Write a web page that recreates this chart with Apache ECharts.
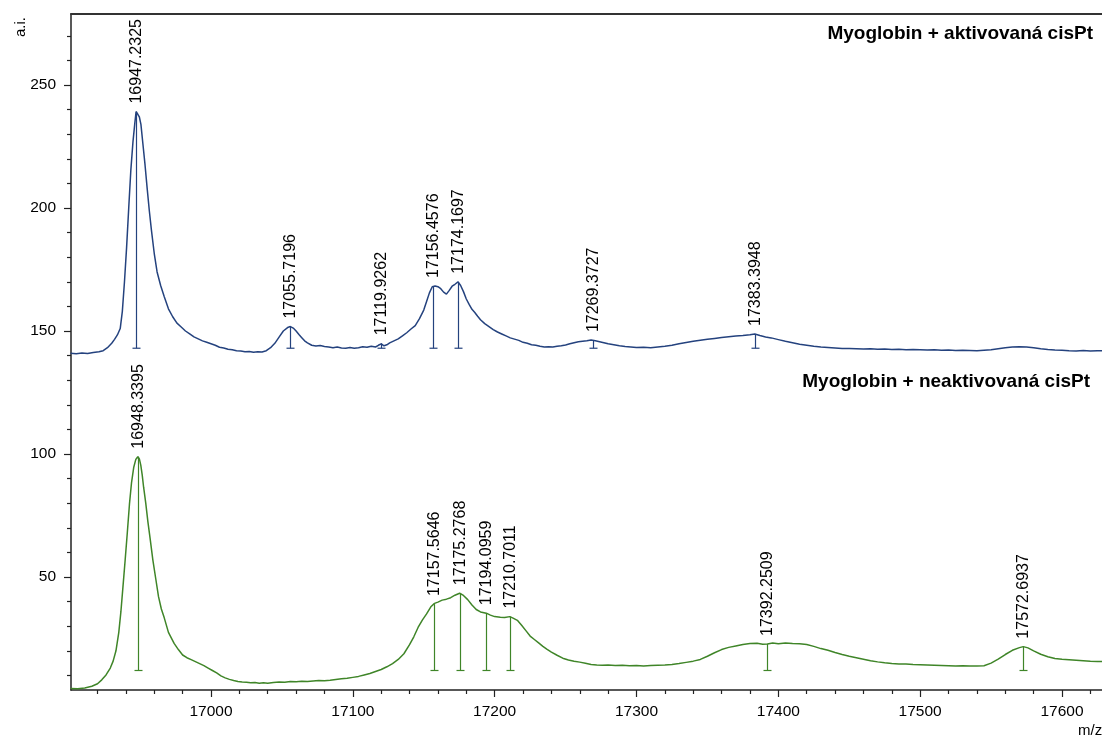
<!DOCTYPE html>
<html>
<head>
<meta charset="utf-8">
<script src="https://cdn.jsdelivr.net/npm/echarts@6/dist/echarts.min.js"></script>
<style>
html,body{margin:0;padding:0;background:#fff;}
#chart{width:1102px;height:737px;}
</style>
</head>
<body>
<div id="chart"></div>
<script>
// ---- DATA ----
const activatedTitle = 'Myoglobin + aktivovaná cisPt';
const nonActivatedTitle = 'Myoglobin + neaktivovaná cisPt';
const yAxisName = 'a.i.';
const xAxisName = 'm/z';

const xTicks = [17000, 17100, 17200, 17300, 17400, 17500, 17600];
const xMinorTicks = [16920, 16940, 16960, 16980, 17020, 17040, 17060, 17080, 17120, 17140, 17160, 17180,
  17220, 17240, 17260, 17280, 17320, 17340, 17360, 17380, 17420, 17440, 17460, 17480,
  17520, 17540, 17560, 17580, 17620];
const yTicks = [50, 100, 150, 200, 250];
const yMinorTicks = [10, 20, 30, 40, 60, 70, 80, 90, 110, 120, 130, 140, 160, 170, 180, 190,
  210, 220, 230, 240, 260, 270];

const activatedSpectrum = [
  [16901, 141.0], [16905, 140.8], [16909, 141.1], [16913, 140.9], [16917, 141.3], [16921, 141.6],
  [16924, 142.0], [16927, 143.2], [16930, 145.0], [16932, 146.6], [16934, 148.4], [16936, 151.0],
  [16937.5, 158.0], [16939, 170.0], [16940.5, 184.0], [16942, 200.0], [16943.5, 215.5], [16945, 227.0],
  [16946.3, 234.5], [16947.2, 239.2], [16948.5, 238.0], [16949.5, 237.0], [16950.6, 234.0], [16952, 226.0],
  [16953.5, 217.5], [16955, 208.0], [16956.5, 199.0], [16958, 191.0], [16960, 181.5], [16962, 174.0],
  [16964.5, 168.5], [16967, 164.0], [16970, 159.0], [16973, 155.8], [16976, 153.2], [16979, 151.6],
  [16982, 150.0], [16985, 148.8], [16988, 147.6], [16991, 146.8], [16994, 146.0], [16997, 145.4],
  [17000, 144.8], [17003, 144.2], [17006, 143.4], [17009, 143.1], [17012, 142.6], [17015, 142.4],
  [17018, 142.0], [17021, 141.9], [17024, 141.6], [17027, 141.7], [17030, 141.4], [17033, 141.6],
  [17036, 141.5], [17039, 142.0], [17042, 143.2], [17045, 145.0], [17048, 147.5], [17051, 150.0],
  [17054, 151.4], [17056, 151.8], [17058, 151.2], [17060, 150.0], [17062, 148.6], [17064, 147.3],
  [17066, 146.0], [17068, 145.2], [17071, 144.2], [17074, 143.9], [17077, 144.1], [17080, 143.7],
  [17083, 143.5], [17086, 143.2], [17089, 143.5], [17092, 143.1], [17095, 143.0], [17098, 143.3],
  [17101, 143.0], [17104, 143.2], [17107, 143.6], [17110, 143.4], [17113, 143.8], [17116, 143.5],
  [17118, 144.2], [17120, 144.8], [17122, 144.0], [17124, 144.4], [17126, 145.2], [17129, 146.0],
  [17132, 146.8], [17135, 148.0], [17138, 149.3], [17141, 150.8], [17144, 152.2], [17147, 155.0],
  [17150, 158.5], [17152, 162.0], [17154, 165.5], [17156, 168.0], [17158, 168.3], [17160, 168.0],
  [17162, 167.2], [17164, 165.8], [17166, 165.0], [17168, 166.5], [17170, 168.2], [17172, 169.0],
  [17174.2, 170.0], [17176, 168.5], [17178, 166.0], [17180, 163.0], [17182, 160.8], [17184, 158.8],
  [17186, 157.5], [17188, 156.0], [17190, 154.6], [17193, 153.0], [17196, 151.8], [17199, 150.6],
  [17202, 149.6], [17205, 148.8], [17208, 148.0], [17211, 147.2], [17214, 146.7], [17217, 146.2],
  [17220, 145.4], [17223, 145.0], [17226, 144.4], [17229, 144.2], [17232, 143.8], [17235, 143.5],
  [17238, 143.6], [17241, 143.5], [17244, 143.8], [17247, 144.0], [17250, 144.3], [17253, 144.8],
  [17256, 145.2], [17259, 145.6], [17262, 145.8], [17265, 146.0], [17268, 146.3], [17271, 146.0],
  [17274, 145.6], [17277, 145.2], [17280, 144.8], [17284, 144.4], [17288, 144.0], [17292, 143.7],
  [17296, 143.5], [17300, 143.3], [17305, 143.4], [17310, 143.2], [17315, 143.5], [17320, 143.8],
  [17325, 144.2], [17330, 144.8], [17335, 145.3], [17340, 145.8], [17345, 146.2], [17350, 146.6],
  [17355, 147.0], [17360, 147.4], [17365, 147.7], [17370, 148.0], [17375, 148.2], [17380, 148.5],
  [17383.4, 148.8], [17387, 148.2], [17391, 147.6], [17395, 147.2], [17400, 146.5], [17405, 145.8],
  [17410, 145.2], [17415, 144.6], [17420, 144.2], [17425, 143.8], [17430, 143.5], [17435, 143.3],
  [17440, 143.1], [17445, 142.9], [17450, 142.9], [17455, 142.8], [17460, 142.7], [17465, 142.8],
  [17470, 142.6], [17475, 142.7], [17480, 142.5], [17485, 142.6], [17490, 142.4], [17495, 142.5],
  [17500, 142.4], [17505, 142.3], [17510, 142.4], [17515, 142.2], [17520, 142.3], [17525, 142.1],
  [17530, 142.2], [17535, 142.1], [17540, 142.0], [17545, 142.2], [17550, 142.4], [17555, 142.8],
  [17560, 143.2], [17565, 143.5], [17570, 143.6], [17575, 143.5], [17580, 143.2], [17585, 142.8],
  [17590, 142.5], [17595, 142.3], [17600, 142.2], [17605, 142.0], [17610, 141.9], [17615, 142.1],
  [17620, 141.9], [17625, 142.0], [17629, 142.0]
];

const nonActivatedSpectrum = [
  [16901, 4.7], [16906, 4.6], [16911, 4.9], [16916, 5.6], [16920, 6.6], [16923, 8.2],
  [16926, 10.2], [16929, 13.0], [16931, 15.8], [16933, 20.0], [16935, 27.5], [16936.5, 36.0],
  [16938, 46.5], [16939.5, 57.0], [16941, 68.0], [16942.5, 79.5], [16944, 88.5], [16945.5, 94.5],
  [16947, 97.8], [16948.4, 98.9], [16949.5, 98.0], [16950.5, 95.5], [16951.5, 91.5], [16952.5, 86.5],
  [16954, 80.0], [16955.5, 72.5], [16957, 66.0], [16959, 57.0], [16961, 49.5], [16963, 42.0],
  [16965, 37.0], [16967, 33.5], [16970, 27.5], [16974, 23.0], [16977, 20.5], [16980, 18.3],
  [16983, 17.2], [16986, 16.4], [16989, 15.6], [16992, 14.8], [16995, 14.0], [16998, 13.0],
  [17001, 12.0], [17004, 11.0], [17007, 9.8], [17010, 9.0], [17013, 8.4], [17016, 7.9],
  [17019, 7.5], [17022, 7.3], [17025, 7.2], [17028, 7.0], [17031, 7.1], [17034, 6.8],
  [17037, 7.0], [17040, 6.8], [17044, 7.1], [17048, 7.3], [17052, 7.2], [17056, 7.5],
  [17060, 7.4], [17064, 7.6], [17068, 7.5], [17072, 7.7], [17076, 7.9], [17080, 7.8],
  [17084, 8.0], [17088, 8.3], [17092, 8.6], [17096, 8.8], [17100, 9.2], [17104, 9.6],
  [17108, 10.2], [17112, 10.8], [17116, 11.6], [17120, 12.4], [17124, 13.5], [17128, 14.8],
  [17132, 16.5], [17136, 18.8], [17140, 22.5], [17143, 25.7], [17146, 29.5], [17149, 32.5],
  [17152, 35.0], [17155, 37.9], [17157.6, 39.3], [17160, 39.8], [17163, 40.6], [17166, 41.0],
  [17169, 41.6], [17172, 42.6], [17175.3, 43.4], [17178, 42.5], [17181, 40.8], [17184, 38.6],
  [17187, 36.8], [17190, 35.8], [17194.1, 35.3], [17197, 34.5], [17200, 33.9], [17204, 33.6],
  [17207, 33.5], [17210.7, 33.9], [17213, 33.3], [17216, 32.4], [17219, 30.4], [17222, 28.2],
  [17225, 26.0], [17228, 24.6], [17231, 23.2], [17234, 21.8], [17237, 20.6], [17240, 19.5],
  [17244, 18.2], [17248, 17.0], [17252, 16.3], [17256, 15.8], [17260, 15.4], [17264, 14.9],
  [17268, 14.4], [17272, 14.2], [17276, 14.1], [17280, 14.2], [17285, 14.0], [17290, 14.1],
  [17295, 13.9], [17300, 14.0], [17305, 13.8], [17310, 14.0], [17315, 14.1], [17320, 14.2],
  [17325, 14.4], [17330, 14.8], [17335, 15.3], [17340, 15.8], [17345, 16.5], [17350, 17.8],
  [17355, 19.2], [17360, 20.5], [17365, 21.4], [17370, 22.0], [17375, 22.6], [17380, 23.0],
  [17385, 23.1], [17389, 22.7], [17392.3, 22.8], [17396, 23.2], [17400, 22.9], [17405, 23.2],
  [17410, 23.0], [17415, 22.9], [17420, 22.6], [17425, 21.8], [17430, 20.9], [17435, 20.2],
  [17440, 19.3], [17445, 18.5], [17450, 17.8], [17455, 17.2], [17460, 16.6], [17465, 16.0],
  [17470, 15.5], [17475, 15.1], [17480, 14.8], [17485, 14.6], [17490, 14.6], [17495, 14.4],
  [17500, 14.3], [17505, 14.2], [17510, 14.1], [17515, 14.0], [17520, 13.9], [17525, 13.8],
  [17530, 13.9], [17535, 13.8], [17540, 13.8], [17545, 13.9], [17550, 15.0], [17555, 16.6],
  [17560, 18.5], [17565, 20.2], [17570, 21.3], [17572.7, 21.7], [17576, 21.2], [17580, 20.0],
  [17585, 18.6], [17590, 17.6], [17595, 16.9], [17600, 16.6], [17605, 16.4], [17610, 16.2],
  [17615, 16.0], [17620, 15.8], [17625, 15.7], [17629, 15.6]
];

const activatedPeakMz = [16947.2325, 17055.7196, 17119.9262, 17156.4576, 17174.1697, 17269.3727, 17383.3948];
const activatedPeakHeight = [239.2, 151.8, 145.0, 168.3, 170.0, 146.3, 148.8];
const activatedPeakBase = 143;

const nonActivatedPeakMz = [16948.3395, 17157.5646, 17175.2768, 17194.0959, 17210.7011, 17392.2509, 17572.6937];
const nonActivatedPeakHeight = [98.9, 39.0, 43.4, 35.3, 33.9, 22.8, 21.7];
const nonActivatedPeakBase = 12;

// ---- STYLE ----
const FONT = "'Liberation Sans', Arial, sans-serif";
const BLUE = '#24427e';
const GREEN = '#3f8528';
const AXIS = '#222';
const X_MIN = 16901.3, X_MAX = 17628.2;
const Y_MIN = 4.07, Y_MAX = 278.86;

function peakRenderer(base, color) {
  return function (params, api) {
    const mz = api.value(0);
    const top = api.value(1);
    const pTop = api.coord([mz, top]);
    const pBot = api.coord([mz, base]);
    const x = Math.round(pTop[0]) + 0.5;
    return {
      type: 'group',
      children: [
        { type: 'line', shape: { x1: x, y1: pTop[1], x2: x, y2: pBot[1] },
          style: { stroke: color, lineWidth: 1.2 } },
        { type: 'line', shape: { x1: x - 4, y1: pBot[1], x2: x + 4, y2: pBot[1] },
          style: { stroke: color, lineWidth: 1.2 } },
        { type: 'text', x: x, y: pTop[1] - 8, rotation: Math.PI / 2,
          style: { text: mz.toFixed(4), align: 'left', verticalAlign: 'middle',
                   fontSize: 16, fill: '#000', fontFamily: FONT } }
      ]
    };
  };
}

const gridBox = { left: 71, right: 0, top: 14, bottom: 47 };
const plainNumber = v => String(Math.round(v));

const chart = echarts.init(document.getElementById('chart'), null, { renderer: 'canvas' });
chart.setOption({
  animation: false,
  backgroundColor: '#fff',
  title: [
    { text: activatedTitle, right: 9, top: 24, padding: 0,
      textStyle: { fontSize: 19, fontWeight: 'bold', color: '#000', fontFamily: FONT } },
    { text: nonActivatedTitle, right: 12, top: 372, padding: 0,
      textStyle: { fontSize: 19, fontWeight: 'bold', color: '#000', fontFamily: FONT } }
  ],
  grid: [Object.assign({}, gridBox), Object.assign({}, gridBox)],
  xAxis: [
    { type: 'value', gridIndex: 0, min: X_MIN, max: X_MAX, position: 'bottom',
      axisLine: { show: true, onZero: false, lineStyle: { color: AXIS, width: 1.5 } },
      axisTick: { show: true, customValues: xTicks, length: 7, lineStyle: { color: AXIS, width: 1.2 } },
      axisLabel: { show: true, customValues: xTicks, formatter: plainNumber, fontSize: 15.5, color: '#000', margin: 14, fontFamily: FONT },
      splitLine: { show: false } },
    { type: 'value', gridIndex: 1, min: X_MIN, max: X_MAX, position: 'bottom',
      axisLine: { show: false, onZero: false },
      axisTick: { show: true, customValues: xMinorTicks, length: 4, lineStyle: { color: AXIS, width: 1.2 } },
      axisLabel: { show: false },
      splitLine: { show: false } },
    { type: 'value', gridIndex: 0, min: X_MIN, max: X_MAX, position: 'top',
      axisLine: { show: true, onZero: false, lineStyle: { color: '#333', width: 2 } },
      axisTick: { show: false }, axisLabel: { show: false }, splitLine: { show: false } }
  ],
  yAxis: [
    { type: 'value', gridIndex: 0, min: Y_MIN, max: Y_MAX, position: 'left',
      axisLine: { show: true, onZero: false, lineStyle: { color: AXIS, width: 1.5 } },
      axisTick: { show: true, customValues: yTicks, length: 7, lineStyle: { color: AXIS, width: 1.2 } },
      axisLabel: { show: true, customValues: yTicks, formatter: plainNumber, fontSize: 15.5, color: '#000', margin: 15, fontFamily: FONT },
      splitLine: { show: false } },
    { type: 'value', gridIndex: 1, min: Y_MIN, max: Y_MAX, position: 'left',
      axisLine: { show: false, onZero: false },
      axisTick: { show: true, customValues: yMinorTicks, length: 4, lineStyle: { color: AXIS, width: 1.2 } },
      axisLabel: { show: false },
      splitLine: { show: false } }
  ],
  graphic: [
    { type: 'text', x: 21, y: 37, rotation: Math.PI / 2,
      style: { text: yAxisName, align: 'left', verticalAlign: 'middle', fontSize: 15, fill: '#000', fontFamily: FONT } },
    { type: 'text', x: 1078, y: 723,
      style: { text: xAxisName, align: 'left', verticalAlign: 'top', fontSize: 15, fill: '#000', fontFamily: FONT } }
  ],
  series: [
    { type: 'line', xAxisIndex: 0, yAxisIndex: 0, data: activatedSpectrum, showSymbol: false,
      lineStyle: { color: BLUE, width: 1.5 }, itemStyle: { color: BLUE }, silent: true },
    { type: 'line', xAxisIndex: 0, yAxisIndex: 0, data: nonActivatedSpectrum, showSymbol: false,
      lineStyle: { color: GREEN, width: 1.5 }, itemStyle: { color: GREEN }, silent: true },
    { type: 'custom', xAxisIndex: 0, yAxisIndex: 0, clip: false,
      data: activatedPeakMz.map((m, i) => [m, activatedPeakHeight[i]]),
      renderItem: peakRenderer(activatedPeakBase, BLUE), silent: true },
    { type: 'custom', xAxisIndex: 0, yAxisIndex: 0, clip: false,
      data: nonActivatedPeakMz.map((m, i) => [m, nonActivatedPeakHeight[i]]),
      renderItem: peakRenderer(nonActivatedPeakBase, GREEN), silent: true }
  ]
});
</script>
</body>
</html>
